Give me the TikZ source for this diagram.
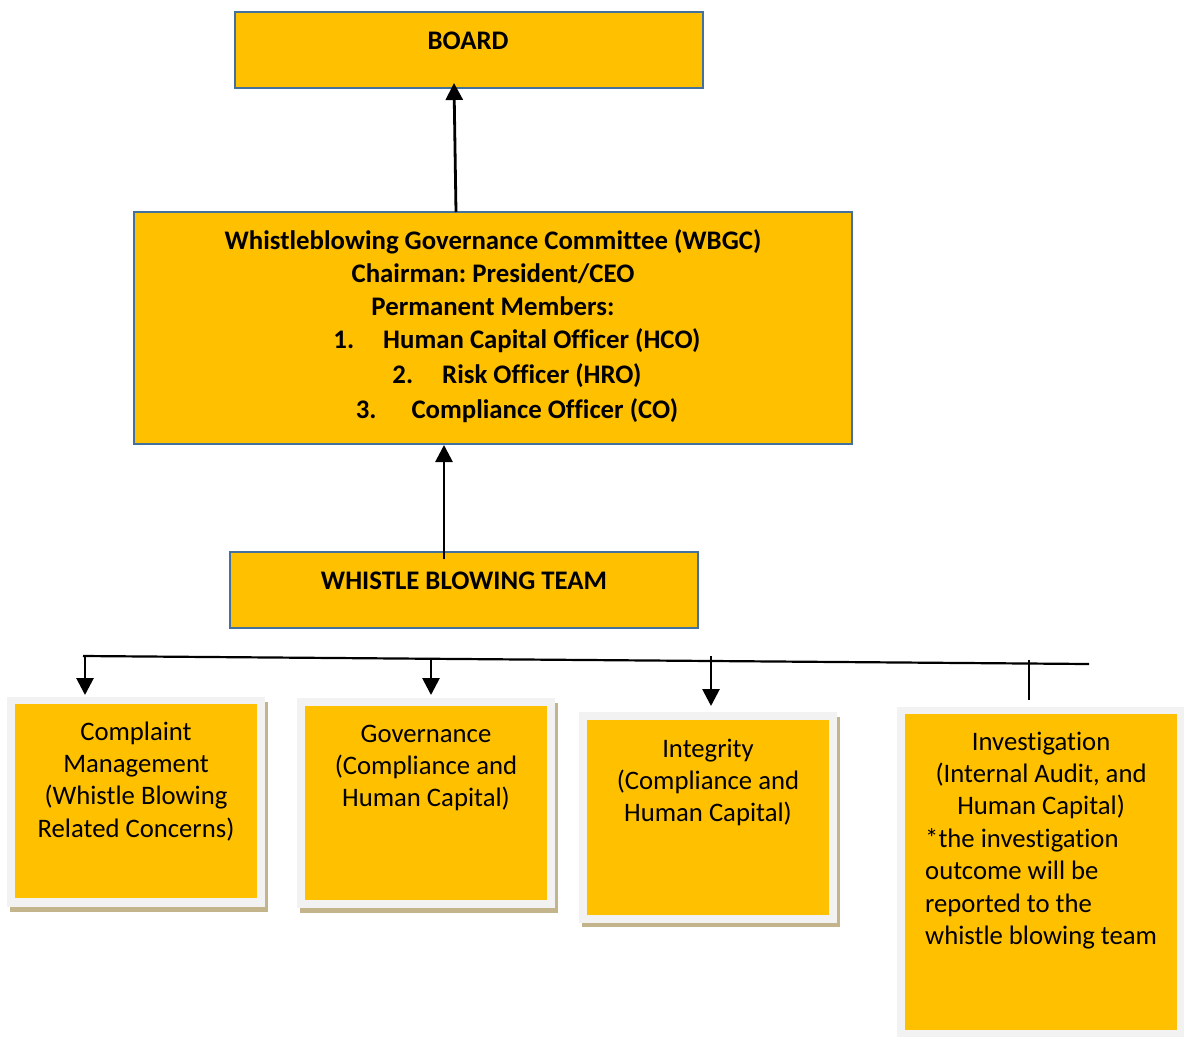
\documentclass[tikz,border=0pt]{standalone}
\usepackage{fontspec}
\setmainfont{Carlito}[Ligatures=NoCommon]
\usetikzlibrary{arrows.meta}
\definecolor{gold}{HTML}{FFC000}
\definecolor{edgeblue}{HTML}{41719C}
\definecolor{framegray}{HTML}{F2F2F2}
\definecolor{shadetan}{HTML}{C4B48C}
\setlength{\tabcolsep}{0pt}
\frenchspacing
\begin{document}
\begin{tikzpicture}[x=1pt,y=-1pt,
  topbox/.style={draw=edgeblue, line width=2pt, fill=gold, inner sep=0pt, outer sep=0pt},
  boldtext/.style={inner sep=0pt, anchor=base, font=\fontsize{26.8}{33}\selectfont\bfseries},
  plaintext/.style={inner sep=0pt, anchor=base, font=\fontsize{26.7}{32.4}\selectfont},
  framebox/.style={fill=framegray, inner sep=0pt, outer sep=0pt},
  innerbox/.style={fill=gold, inner sep=0pt},
  arr/.style={line width=2.8pt, -{Triangle[length=17pt,width=17pt]}},
  plainline/.style={line width=2.2pt}]
\useasboundingbox (0,0) rectangle (1184,1037);
\fill[white] (0,0) rectangle (1184,1037);

% top boxes
\node[topbox, minimum width=468pt, minimum height=76pt] (board) at (469,50) {};
\node[boldtext] (boardtxt) at (468,49) {BOARD};

\node[topbox, minimum width=718pt, minimum height=232pt] (wbgc) at (493,328) {};
\node[boldtext] (wbgctxt) at (493,249) {\begin{tabular}[t]{c}
Whistleblowing Governance Committee (WBGC)\\
Chairman: President/CEO\\
Permanent Members:\\
\hspace*{48pt}1.\hspace{29pt}Human Capital Officer (HCO)\\[2pt]
\hspace*{48pt}2.\hspace{29pt}Risk Officer (HRO)\\[2pt]
\hspace*{48pt}3.\hspace{35pt}Compliance Officer (CO)
\end{tabular}};

\node[topbox, minimum width=468pt, minimum height=76pt] (wbt) at (464,590) {};
\node[boldtext] (wbttxt) at (464,589) {WHISTLE BLOWING TEAM};

% bottom boxes: shadow, frame, inner
\fill[shadetan] (10,702) rectangle (268,912);
\node[framebox, minimum width=258pt, minimum height=210pt] (b1) at (136,802) {};
\node[innerbox, minimum width=242pt, minimum height=194pt] (b1in) at (136,801) {};
\node[plaintext] (b1txt) at (136,740) {\begin{tabular}[t]{c}
Complaint\\ Management\\ (Whistle Blowing\\ Related Concerns)
\end{tabular}};

\fill[shadetan] (300,703) rectangle (558,913);
\node[framebox, minimum width=258pt, minimum height=210pt] (b2) at (426,803) {};
\node[innerbox, minimum width=242pt, minimum height=194pt] (b2in) at (426,803) {};
\node[plaintext] (b2txt) at (426,742) {\begin{tabular}[t]{c}
Governance\\ (Compliance and\\ Human Capital)
\end{tabular}};

\fill[shadetan] (582,717) rectangle (840,927);
\node[framebox, minimum width=258pt, minimum height=211pt] (b3) at (708,817.5) {};
\node[innerbox, minimum width=242pt, minimum height=195pt] (b3in) at (708,817.5) {};
\node[plaintext] (b3txt) at (708,757) {\begin{tabular}[t]{c}
Integrity\\ (Compliance and\\ Human Capital)
\end{tabular}};

\node[framebox, minimum width=287pt, minimum height=330pt] (b4) at (1040.5,872) {};
\node[innerbox, minimum width=272pt, minimum height=316pt] (b4in) at (1041,872) {};
\node[plaintext, anchor=base west] (b4txt) at (925,750) {\begin{tabular}[t]{c}
Investigation\\ (Internal Audit, and\\ Human Capital)\\
\multicolumn{1}{l}{*the investigation}\\
\multicolumn{1}{l}{outcome will be}\\
\multicolumn{1}{l}{reported to the}\\
\multicolumn{1}{l}{whistle blowing team}
\end{tabular}};

% connectors
\coordinate (a1s) at (456,212);
\coordinate (a1e) at (454,83);
\coordinate (a2s) at (444,559);
\coordinate (a2e) at (444,445);
\draw[arr] (a1s) -- (a1e);
\draw[arr] (a2s) -- (a2e);

\coordinate (hl) at (83,656);
\coordinate (hr) at (1089,664);
\draw[plainline] (hl) -- (hr);

\coordinate (d1s) at (85,657);   \coordinate (d1e) at (85,695);
\coordinate (d2s) at (431,659);  \coordinate (d2e) at (431,695);
\coordinate (d3s) at (711,656);  \coordinate (d3e) at (711,706);
\coordinate (d4s) at (1029,660); \coordinate (d4e) at (1029,700);
\draw[arr] (d1s) -- (d1e);
\draw[arr] (d2s) -- (d2e);
\draw[arr] (d3s) -- (d3e);
\draw[line width=2.8pt] (d4s) -- (d4e);
\end{tikzpicture}
\end{document}
